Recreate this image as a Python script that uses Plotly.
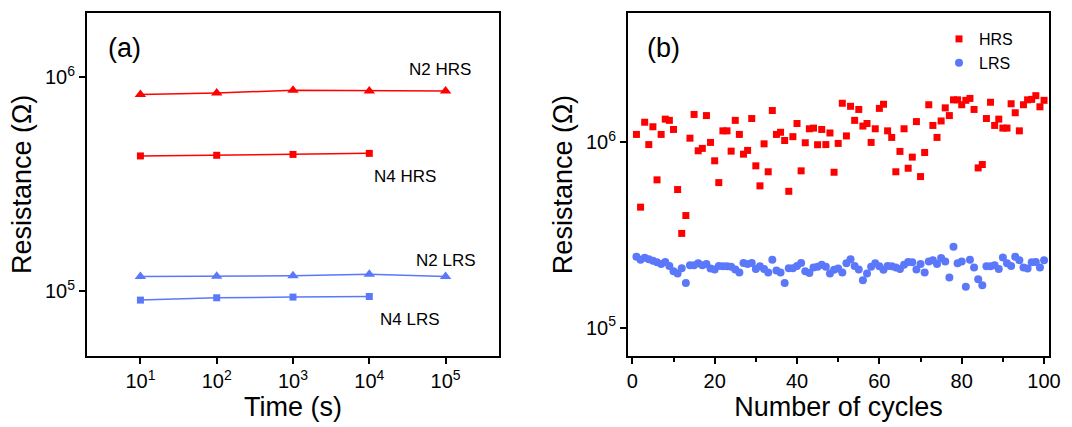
import plotly.graph_objects as go
from plotly.subplots import make_subplots

# ---- (a) retention: resistance vs. time ----
time_s = [10, 100, 1000, 10000, 100000]
time_s4 = [10, 100, 1000, 10000]
n2_hrs = [8.28e5, 8.42e5, 8.67e5, 8.60e5, 8.60e5]
n4_hrs = [4.28e5, 4.31e5, 4.35e5, 4.40e5]
n2_lrs = [1.171e5, 1.175e5, 1.179e5, 1.20e5, 1.171e5]
n4_lrs = [9.08e4, 9.31e4, 9.38e4, 9.44e4]

# ---- (b) endurance: resistance vs. cycle number ----
cycles = list(range(1, 101))
hrs = [
    1.10e6, 4.46e5, 1.28e6, 9.70e5, 1.21e6, 6.26e5, 1.10e6, 1.33e6, 1.31e6, 1.17e6,
    5.55e5, 3.22e5, 4.02e5, 1.05e6, 1.41e6, 8.98e5, 9.25e5, 1.39e6, 9.96e5, 7.93e5,
    6.05e5, 1.15e6, 1.15e6, 8.94e5, 1.31e6, 1.10e6, 8.61e5, 9.02e5, 1.34e6, 7.45e5,
    5.81e5, 9.79e5, 6.92e5, 1.48e6, 1.10e6, 1.13e6, 1.02e6, 5.43e5, 1.07e6, 1.26e6,
    7.00e5, 9.92e5, 1.18e6, 1.19e6, 9.68e5, 1.17e6, 9.70e5, 1.12e6, 6.88e5, 9.84e5,
    1.62e6, 1.08e6, 1.56e6, 1.31e6, 1.50e6, 1.22e6, 1.26e6, 9.96e5, 1.18e6, 1.52e6,
    1.60e6, 1.15e6, 1.06e6, 6.92e5, 8.91e5, 1.18e6, 7.23e5, 8.30e5, 1.29e6, 6.52e5,
    8.79e5, 1.59e6, 1.23e6, 1.06e6, 1.30e6, 1.53e6, 1.39e6, 1.69e6, 1.69e6, 1.59e6,
    1.68e6, 1.72e6, 1.50e6, 7.26e5, 7.57e5, 1.34e6, 1.64e6, 1.23e6, 1.33e6, 1.19e6,
    1.19e6, 1.61e6, 1.44e6, 1.15e6, 1.59e6, 1.69e6, 1.70e6, 1.78e6, 1.55e6, 1.68e6,
]
lrs = [
    2.41e5, 2.32e5, 2.38e5, 2.34e5, 2.29e5, 2.25e5, 2.20e5, 2.26e5, 2.15e5, 2.01e5,
    1.96e5, 2.09e5, 1.74e5, 2.17e5, 2.17e5, 2.22e5, 2.17e5, 2.20e5, 2.08e5, 2.06e5,
    2.15e5, 2.14e5, 2.14e5, 2.13e5, 2.06e5, 1.98e5, 2.23e5, 2.20e5, 2.23e5, 2.07e5,
    2.14e5, 2.07e5, 1.98e5, 2.32e5, 2.03e5, 1.98e5, 1.74e5, 2.09e5, 2.09e5, 2.15e5,
    2.23e5, 2.01e5, 1.97e5, 2.11e5, 2.13e5, 2.18e5, 2.13e5, 1.96e5, 2.05e5, 2.08e5,
    1.98e5, 2.22e5, 2.34e5, 2.15e5, 2.06e5, 1.80e5, 1.96e5, 2.13e5, 2.22e5, 2.14e5,
    2.05e5, 2.15e5, 2.14e5, 2.11e5, 2.07e5, 2.18e5, 2.26e5, 2.25e5, 2.06e5, 2.20e5,
    1.98e5, 2.27e5, 2.31e5, 2.20e5, 2.37e5, 2.27e5, 1.86e5, 2.73e5, 2.22e5, 2.27e5,
    1.66e5, 2.32e5, 2.11e5, 1.82e5, 1.69e5, 2.14e5, 2.14e5, 2.17e5, 2.07e5, 2.39e5,
    2.22e5, 2.15e5, 2.41e5, 2.31e5, 2.11e5, 2.08e5, 2.25e5, 2.26e5, 2.11e5, 2.31e5,
]

time_ticks = [10, 100, 1000, 10000, 100000]
time_ticktext = ["10<sup>1</sup>", "10<sup>2</sup>", "10<sup>3</sup>", "10<sup>4</sup>", "10<sup>5</sup>"]
res_ticks = [1e5, 1e6]
res_ticktext = ["10<sup>5</sup>", "10<sup>6</sup>"]

RED = "#FF0000"
BLUE = "#5B78FA"
FONT = "Liberation Sans, Arial, sans-serif"

W, H = 1072, 427
ML, MR, MT, MB = 87, 23, 13, 71
PW = W - ML - MR
PH = H - MT - MB


def px_x(p):
    """Horizontal pixel position -> paper fraction."""
    return (p - ML) / PW


def px_y(p):
    """Vertical pixel position (from top) -> paper fraction."""
    return (H - MB - p) / PH


fig = make_subplots(rows=1, cols=2)

# retention curves
fig.add_trace(go.Scatter(x=time_s, y=n2_hrs, mode="lines+markers",
                         line=dict(color=RED, width=1.5),
                         marker=dict(symbol="triangle-up", size=10, color=RED),
                         showlegend=False), row=1, col=1)
fig.add_trace(go.Scatter(x=time_s4, y=n4_hrs, mode="lines+markers",
                         line=dict(color=RED, width=1.5),
                         marker=dict(symbol="square", size=7, color=RED),
                         showlegend=False), row=1, col=1)
fig.add_trace(go.Scatter(x=time_s, y=n2_lrs, mode="lines+markers",
                         line=dict(color=BLUE, width=1.5),
                         marker=dict(symbol="triangle-up", size=10, color=BLUE),
                         showlegend=False), row=1, col=1)
fig.add_trace(go.Scatter(x=time_s4, y=n4_lrs, mode="lines+markers",
                         line=dict(color=BLUE, width=1.5),
                         marker=dict(symbol="square", size=7, color=BLUE),
                         showlegend=False), row=1, col=1)

# endurance scatter
fig.add_trace(go.Scatter(x=cycles, y=hrs, mode="markers", name="HRS",
                         marker=dict(symbol="square", size=7, color=RED)),
              row=1, col=2)
fig.add_trace(go.Scatter(x=cycles, y=lrs, mode="markers", name="LRS",
                         marker=dict(symbol="circle", size=8, color=BLUE)),
              row=1, col=2)

axis_common = dict(showline=True, linecolor="black", linewidth=2, mirror=True,
                   ticks="outside", ticklen=6, tickwidth=2, tickcolor="black",
                   showgrid=False, zeroline=False,
                   tickfont=dict(family=FONT, size=20, color="black"),
                   title_font=dict(family=FONT, size=27, color="black"))

fig.update_xaxes(**axis_common, type="log", range=[0.3, 5.7],
                 tickvals=time_ticks, ticktext=time_ticktext,
                 title_text="Time (s)", title_standoff=4,
                 domain=[0, px_x(499)], row=1, col=1)
fig.update_yaxes(**axis_common, type="log", range=[4.697, 6.299],
                 tickvals=res_ticks, ticktext=res_ticktext,
                 title_text="Resistance (\u03a9)", title_standoff=6,
                 row=1, col=1)
fig.update_xaxes(**axis_common, range=[-1.05, 101.2],
                 tickvals=[0, 20, 40, 60, 80, 100],
                 minor=dict(tickvals=[10, 30, 50, 70, 90], ticks="outside",
                            ticklen=4, tickwidth=2, tickcolor="black"),
                 title_text="Number of cycles", title_standoff=4,
                 domain=[px_x(628), 1.0], row=1, col=2)
fig.update_yaxes(**axis_common, type="log", range=[4.847, 6.696],
                 tickvals=res_ticks, ticktext=res_ticktext,
                 title_text="Resistance (\u03a9)", title_standoff=6,
                 row=1, col=2)

ann_font = dict(family=FONT, size=17, color="black")
labels = [("N2 HRS", 4.925, 6.036), ("N4 HRS", 4.466, 5.537),
          ("N2 LRS", 5.004, 5.145), ("N4 LRS", 4.531, 4.869)]
for text, lx, ly in labels:
    fig.add_annotation(text=text, x=lx, y=ly, xref="x", yref="y",
                       showarrow=False, font=ann_font)

panel_font = dict(family=FONT, size=27, color="black")
fig.add_annotation(text="(a)", x=px_x(124), y=px_y(48), xref="paper", yref="paper",
                   xanchor="center", yanchor="middle", showarrow=False, font=panel_font)
fig.add_annotation(text="(b)", x=px_x(663), y=px_y(48), xref="paper", yref="paper",
                   xanchor="center", yanchor="middle", showarrow=False, font=panel_font)

fig.update_layout(
    width=W, height=H,
    margin=dict(l=ML, r=MR, t=MT, b=MB),
    paper_bgcolor="white", plot_bgcolor="white",
    font=dict(family=FONT, color="black"),
    legend=dict(x=px_x(939), y=px_y(22),
                xanchor="left", yanchor="top",
                font=dict(family=FONT, size=16, color="black"),
                bgcolor="rgba(0,0,0,0)", itemwidth=30, tracegroupgap=0),
)

fig.write_html("out.html")
